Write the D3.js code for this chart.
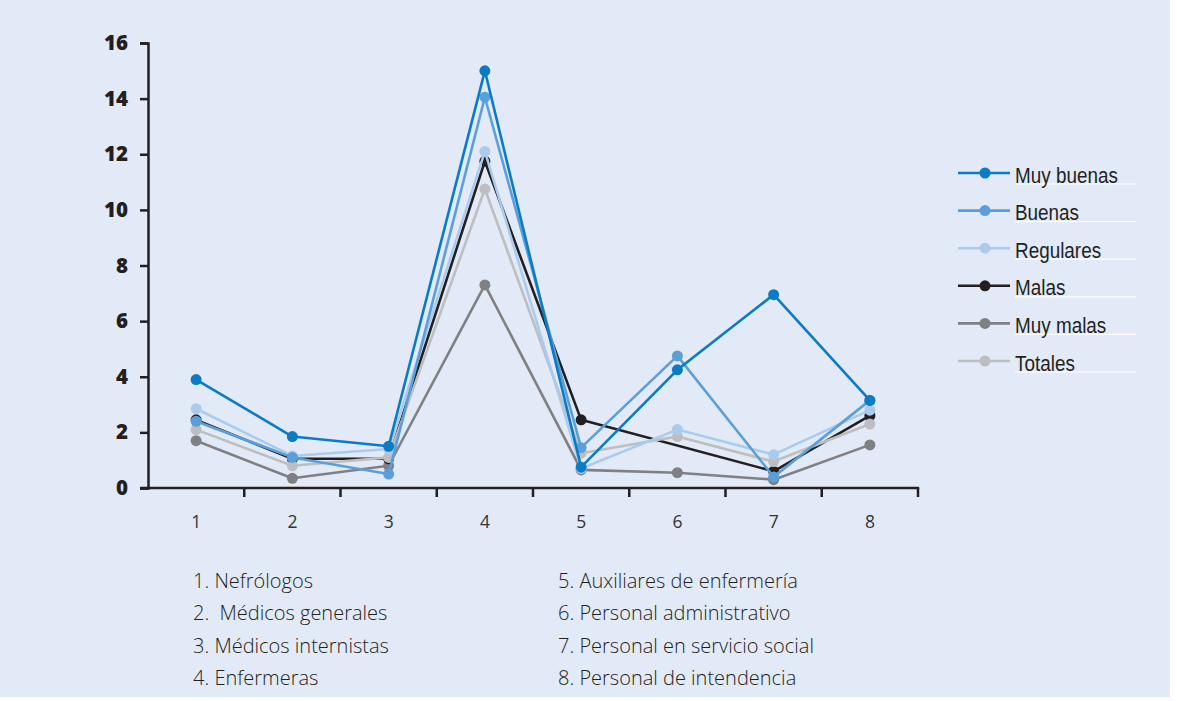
<!DOCTYPE html>
<html>
<head>
<meta charset="utf-8">
<script src="https://cdn.jsdelivr.net/npm/d3@7"></script>
<style>
  html, body { margin: 0; padding: 0; background: #ffffff; }
  svg { display: block; }
</style>
</head>
<body>
<svg id="chart" width="1177" height="701"></svg>
<script>
// Categories on the x axis (numbered staff groups)
const categories = ["1", "2", "3", "4", "5", "6", "7", "8"];

// Staff group names listed under the chart
const groupNames = [
  "1. Nefrólogos",
  "2.  Médicos generales",
  "3. Médicos internistas",
  "4. Enfermeras",
  "5. Auxiliares de enfermería",
  "6. Personal administrativo",
  "7. Personal en servicio social",
  "8. Personal de intendencia"
];

// Series names, in legend order
const seriesNames = ["Muy buenas", "Buenas", "Regulares", "Malas", "Muy malas", "Totales"];

// Values per category (null = no value for that group)
const muyBuenas = [3.9, 1.85, 1.5, 15.0, 0.75, 4.25, 6.95, 3.15];
const buenas    = [2.4, 1.1, 0.5, 14.05, 1.45, 4.75, 0.4, 3.15];
const regulares = [2.85, 1.15, 1.4, 12.1, 0.7, 2.1, 1.2, 2.8];
const malas     = [2.45, 1.05, 1.05, 11.75, 2.45, null, 0.6, 2.6];
const muyMalas  = [1.7, 0.35, 0.8, 7.3, 0.65, 0.55, 0.3, 1.55];
const totales   = [2.1, 0.8, 1.1, 10.75, 1.25, 1.85, 0.95, 2.3];

// Y axis tick values
const yTicks = [0, 2, 4, 6, 8, 10, 12, 14, 16];

const seriesValues = [muyBuenas, buenas, regulares, malas, muyMalas, totales];
const seriesColors = ["#0a7bc4", "#5b9fd8", "#abcbed", "#231f20", "#7f8083", "#bdbec0"];

const svg = d3.select("#chart");

// panel background
svg.append("rect")
  .attr("x", 0).attr("y", 0)
  .attr("width", 1170).attr("height", 697)
  .attr("fill", "#e2eaf7");

const x = d3.scaleBand().domain(categories).range([148, 918]);
const y = d3.scaleLinear().domain([0, 16]).range([488, 43]);

const axisColor = "#231f20";

// Y axis
const yAxis = svg.append("g")
  .attr("transform", "translate(148,0)")
  .call(d3.axisLeft(y).tickValues(yTicks).tickSize(8).tickPadding(12).tickFormat(d3.format("d")));
yAxis.select(".domain").attr("stroke", axisColor).attr("stroke-width", 2.5);
yAxis.selectAll(".tick line").attr("stroke", axisColor).attr("stroke-width", 2.5);
yAxis.selectAll(".tick text")
  .attr("fill", "#231f20")
  .style("font-family", "'Open Sans', sans-serif")
  .style("font-weight", "800")
  .style("font-size", "20.5px");

// X axis: ticks at band boundaries, labels at band centres
const xAxis = svg.append("g")
  .attr("transform", "translate(0,488)")
  .call(d3.axisBottom(x).tickSize(0).tickPadding(28));
xAxis.select(".domain").remove();
xAxis.selectAll(".tick text")
  .attr("fill", "#333333")
  .style("font-family", "'Open Sans', sans-serif")
  .style("font-weight", "400")
  .style("font-size", "17.5px");

svg.append("line")
  .attr("x1", 140).attr("x2", x.range()[1] + 1.2)
  .attr("y1", 488).attr("y2", 488)
  .attr("stroke", axisColor).attr("stroke-width", 2.5);

const boundaries = categories.map(c => x(c)).concat([x.range()[1]]).slice(1);
svg.append("g").selectAll("line")
  .data(boundaries)
  .join("line")
  .attr("x1", d => d).attr("x2", d => d)
  .attr("y1", 488).attr("y2", 497)
  .attr("stroke", axisColor).attr("stroke-width", 2.5);

// Series lines and markers
const cx = c => x(c) + x.bandwidth() / 2;
const line = d3.line()
  .x(d => cx(d.c))
  .y(d => y(d.v));

const drawOrder = [4, 3, 5, 2, 1, 0];
drawOrder.forEach(i => {
  const pts = categories
    .map((c, j) => ({ c, v: seriesValues[i][j] }))
    .filter(d => d.v !== null);
  const g = svg.append("g");
  g.append("path")
    .datum(pts)
    .attr("d", line)
    .attr("fill", "none")
    .attr("stroke", seriesColors[i])
    .attr("stroke-width", 2.6)
    .attr("stroke-linejoin", "round");
  g.selectAll("circle")
    .data(pts)
    .join("circle")
    .attr("cx", d => cx(d.c))
    .attr("cy", d => y(d.v))
    .attr("r", 5.5)
    .attr("fill", seriesColors[i]);
});

// Legend
const legend = svg.append("g");
seriesNames.forEach((name, i) => {
  const ly = 173 + i * 37.6;
  legend.append("line")
    .attr("x1", 958).attr("x2", 1010)
    .attr("y1", ly).attr("y2", ly)
    .attr("stroke", seriesColors[i]).attr("stroke-width", 2.6);
  legend.append("circle")
    .attr("cx", 985).attr("cy", ly).attr("r", 5.5)
    .attr("fill", seriesColors[i]);
  legend.append("line")
    .attr("x1", 1015).attr("x2", 1136)
    .attr("y1", ly + 11).attr("y2", ly + 11)
    .attr("stroke", "#ffffff").attr("stroke-width", 1.2);
  // condensed label: regular sans squeezed horizontally
  legend.append("text")
    .attr("transform", `translate(1015,${ly + 9.5}) scale(0.84,1)`)
    .attr("fill", "#231f20")
    .style("font-family", "'Liberation Sans', Arial, sans-serif")
    .style("font-size", "22.5px")
    .text(name);
});

// Group names under the chart, in two columns
const notes = svg.append("g")
  .style("font-family", "'Open Sans', sans-serif")
  .style("font-weight", "300")
  .style("font-size", "20px")
  .attr("fill", "#231f20");
groupNames.forEach((t, i) => {
  const col = Math.floor(i / 4);
  const row = i % 4;
  notes.append("text")
    .attr("x", col === 0 ? 193 : 558)
    .attr("y", 588 + row * 32.3)
    .attr("xml:space", "preserve")
    .style("white-space", "pre")
    .text(t);
});
</script>
</body>
</html>
